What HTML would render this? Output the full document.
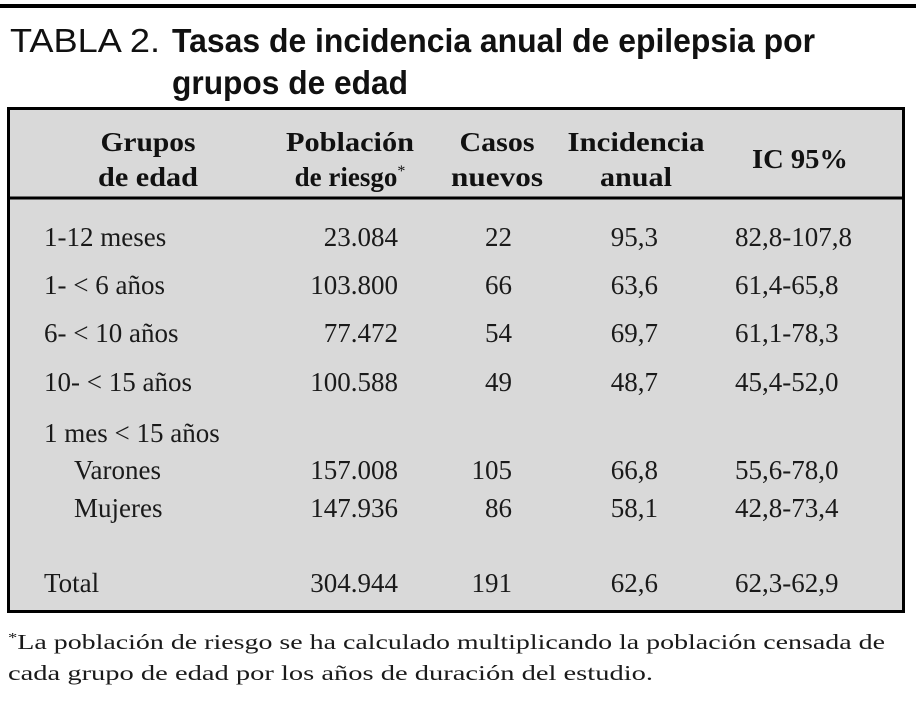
<!DOCTYPE html>
<html><head><meta charset="utf-8"><style>
html,body{margin:0;padding:0;background:#fff;width:916px;height:703px;overflow:hidden}
svg{display:block}
.t{font-family:"Liberation Serif",serif;font-size:27px;fill:#1a1a1a}
.h{font-family:"Liberation Serif",serif;font-size:27px;font-weight:bold;fill:#111}
.ti{font-family:"Liberation Sans",sans-serif;font-size:33px;fill:#111}
.f{font-family:"Liberation Serif",serif;font-size:21px;fill:#1a1a1a}
</style></head><body>
<svg width="916" height="703">
<rect x="0" y="4" width="916" height="4" fill="#000"/>
<text class="ti" x="10" y="52" textLength="150" lengthAdjust="spacingAndGlyphs">TABLA 2.</text>
<text class="ti" x="172" y="52" font-weight="bold" textLength="643" lengthAdjust="spacingAndGlyphs">Tasas de incidencia anual de epilepsia por</text>
<text class="ti" x="172" y="94" font-weight="bold" textLength="236" lengthAdjust="spacingAndGlyphs">grupos de edad</text>
<rect x="8.5" y="108.5" width="895" height="503" fill="#d9d9d9" stroke="#000" stroke-width="3"/>
<line x1="8" y1="198" x2="904" y2="198" stroke="#000" stroke-width="3"/>
<g>
<text class="h" x="148" y="151" text-anchor="middle" textLength="95" lengthAdjust="spacingAndGlyphs">Grupos</text>
<text class="h" x="148" y="186" text-anchor="middle" textLength="100" lengthAdjust="spacingAndGlyphs">de edad</text>
<text class="h" x="350" y="151" text-anchor="middle" textLength="128" lengthAdjust="spacingAndGlyphs">Población</text>
<text class="h" x="350" y="186" text-anchor="middle">de riesgo<tspan font-size="16" font-weight="normal" dy="-10">*</tspan></text>
<text class="h" x="497" y="151" text-anchor="middle" textLength="75" lengthAdjust="spacingAndGlyphs">Casos</text>
<text class="h" x="497" y="186" text-anchor="middle" textLength="92" lengthAdjust="spacingAndGlyphs">nuevos</text>
<text class="h" x="636" y="151" text-anchor="middle" textLength="137" lengthAdjust="spacingAndGlyphs">Incidencia</text>
<text class="h" x="636" y="186" text-anchor="middle" textLength="72" lengthAdjust="spacingAndGlyphs">anual</text>
<text class="h" x="800" y="168" text-anchor="middle" textLength="96" lengthAdjust="spacingAndGlyphs">IC 95%</text>
</g>
<g>
<text class="t" x="44" y="246">1-12 meses</text>
<text class="t" x="398" y="246" text-anchor="end">23.084</text>
<text class="t" x="512" y="246" text-anchor="end">22</text>
<text class="t" x="658" y="246" text-anchor="end">95,3</text>
<text class="t" x="735" y="246">82,8-107,8</text>

<text class="t" x="44" y="294">1- &lt; 6 años</text>
<text class="t" x="398" y="294" text-anchor="end">103.800</text>
<text class="t" x="512" y="294" text-anchor="end">66</text>
<text class="t" x="658" y="294" text-anchor="end">63,6</text>
<text class="t" x="735" y="294">61,4-65,8</text>

<text class="t" x="44" y="342">6- &lt; 10 años</text>
<text class="t" x="398" y="342" text-anchor="end">77.472</text>
<text class="t" x="512" y="342" text-anchor="end">54</text>
<text class="t" x="658" y="342" text-anchor="end">69,7</text>
<text class="t" x="735" y="342">61,1-78,3</text>

<text class="t" x="44" y="391">10- &lt; 15 años</text>
<text class="t" x="398" y="391" text-anchor="end">100.588</text>
<text class="t" x="512" y="391" text-anchor="end">49</text>
<text class="t" x="658" y="391" text-anchor="end">48,7</text>
<text class="t" x="735" y="391">45,4-52,0</text>

<text class="t" x="44" y="442">1 mes &lt; 15 años</text>

<text class="t" x="74" y="479">Varones</text>
<text class="t" x="398" y="479" text-anchor="end">157.008</text>
<text class="t" x="512" y="479" text-anchor="end">105</text>
<text class="t" x="658" y="479" text-anchor="end">66,8</text>
<text class="t" x="735" y="479">55,6-78,0</text>

<text class="t" x="74" y="517">Mujeres</text>
<text class="t" x="398" y="517" text-anchor="end">147.936</text>
<text class="t" x="512" y="517" text-anchor="end">86</text>
<text class="t" x="658" y="517" text-anchor="end">58,1</text>
<text class="t" x="735" y="517">42,8-73,4</text>

<text class="t" x="44" y="592">Total</text>
<text class="t" x="398" y="592" text-anchor="end">304.944</text>
<text class="t" x="512" y="592" text-anchor="end">191</text>
<text class="t" x="658" y="592" text-anchor="end">62,6</text>
<text class="t" x="735" y="592">62,3-62,9</text>
</g>
<text class="f" x="8" y="649" textLength="877" lengthAdjust="spacingAndGlyphs"><tspan font-size="14" dy="-7">*</tspan><tspan dy="7">La población de riesgo se ha calculado multiplicando la población censada de</tspan></text>
<text class="f" x="8" y="680" textLength="645" lengthAdjust="spacingAndGlyphs">cada grupo de edad por los años de duración del estudio.</text>
</svg>
</body></html>
